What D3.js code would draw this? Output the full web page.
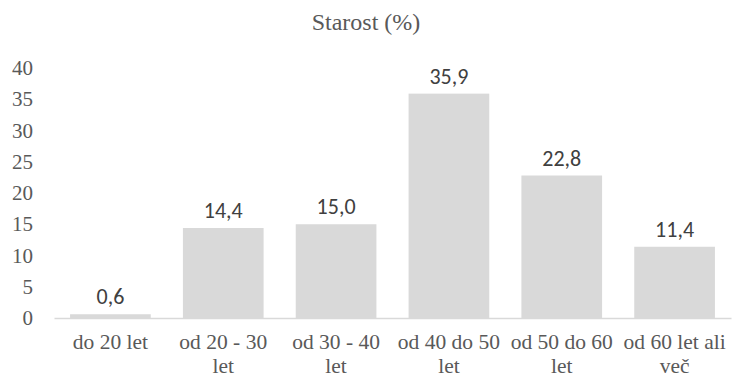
<!DOCTYPE html>
<html>
<head>
<meta charset="utf-8">
<script src="https://cdn.jsdelivr.net/npm/d3@7"></script>
<style>
  html, body { margin: 0; padding: 0; background: #ffffff; }
  svg { display: block; }
</style>
</head>
<body>
<svg id="chart" width="732" height="378"></svg>
<script>
// Age distribution of respondents, in percent
const categories = [
  ["do 20 let"],
  ["od 20 - 30", "let"],
  ["od 30 - 40", "let"],
  ["od 40 do 50", "let"],
  ["od 50 do 60", "let"],
  ["od 60 let ali", "več"]
];
const values = [0.6, 14.4, 15.0, 35.9, 22.8, 11.4];
const yTicks = [0, 5, 10, 15, 20, 25, 30, 35, 40];
const chartTitle = "Starost (%)";

const W = 732, H = 378;
const margin = { top: 68, right: 1, bottom: 60, left: 54 };
const serifFont = "Liberation Serif";
const sansFont = "Carlito";
const textGrey = "#595959";

const svg = d3.select("#chart");

const x = d3.scaleBand()
  .domain(d3.range(values.length))
  .range([margin.left, W - margin.right])
  .paddingInner(0.285)
  .paddingOuter(0.1425);

const y = d3.scaleLinear()
  .domain([0, 40])
  .range([H - margin.bottom, margin.top]);

// Title
svg.append("text")
  .attr("x", W / 2)
  .attr("y", 30)
  .attr("font-family", serifFont)
  .attr("font-size", 24)
  .attr("fill", textGrey)
  .attr("text-anchor", "middle")
  .text(chartTitle);

// Bars
svg.append("g")
  .selectAll("rect")
  .data(values)
  .join("rect")
  .attr("x", (d, i) => x(i))
  .attr("width", x.bandwidth())
  .attr("y", d => y(d))
  .attr("height", d => y(0) - y(d))
  .attr("fill", "#d9d9d9");

// Value labels above the bars
svg.append("g")
  .selectAll("text")
  .data(values)
  .join("text")
  .attr("x", (d, i) => x(i) + x.bandwidth() / 2)
  .attr("y", d => y(d) - 10)
  .attr("font-family", sansFont)
  .attr("font-size", 22)
  .attr("fill", "#404040")
  .attr("text-anchor", "middle")
  .text(d => d3.format(".1f")(d).replace(".", ","));

// Y axis: labels only, no line
const gy = svg.append("g")
  .attr("transform", "translate(33,0)")
  .call(d3.axisLeft(y).tickValues(yTicks).tickSize(0).tickPadding(0))
  .attr("font-family", serifFont)
  .attr("font-size", 21);
gy.select(".domain").remove();
gy.selectAll("text").attr("fill", textGrey);

// X axis: light baseline, labels wrapped over two lines
const gx = svg.append("g")
  .attr("transform", `translate(0,${y(0)})`)
  .call(d3.axisBottom(x).tickSize(0).tickFormat(() => ""))
  .attr("font-family", serifFont)
  .attr("font-size", 21.5);
gx.select(".domain")
  .attr("stroke", "#d9d9d9")
  .attr("stroke-width", 1.5);
gx.selectAll(".tick").each(function(i) {
  const t = d3.select(this).select("text")
    .attr("y", 0)
    .attr("dy", null)
    .attr("fill", textGrey)
    .text(null);
  categories[i].forEach((line, k) => {
    t.append("tspan")
      .attr("x", 0)
      .attr("y", 31 + k * 24)
      .text(line);
  });
});
</script>
</body>
</html>
